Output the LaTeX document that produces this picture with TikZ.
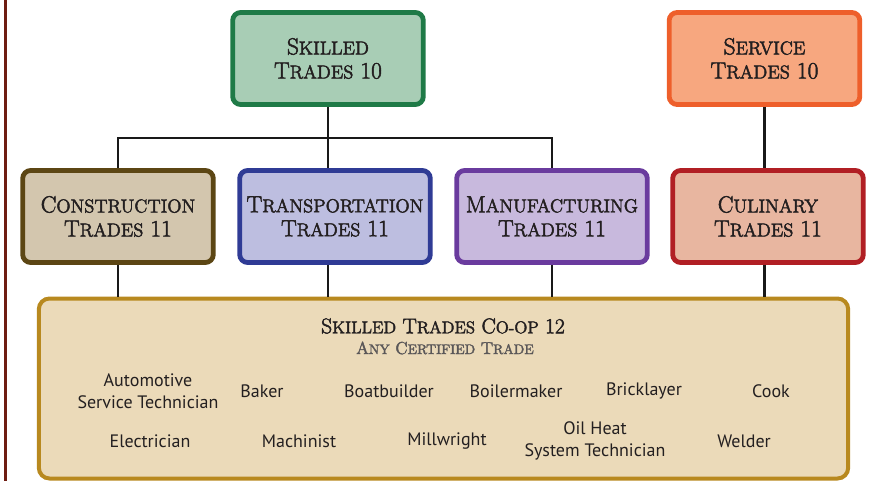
\documentclass[tikz,border=0pt]{standalone}
\usepackage{fontspec}
\newfontfamily\itemfont{PT Sans}
\newfontfamily\capsfont[FakeBold=2.4]{Latin Modern Roman}
\makeatletter
\newcommand\lowcaps[1]{{\fontsize{0.8\dimexpr\f@size pt\relax}{0pt}\selectfont\uppercase{#1}}}
\makeatother
\definecolor{txt}{HTML}{231F20}
\definecolor{skillfill}{HTML}{A8CDB5}
\definecolor{skillline}{HTML}{1F7A47}
\definecolor{servfill}{HTML}{F7A77F}
\definecolor{servline}{HTML}{EE5F2B}
\definecolor{constfill}{HTML}{D3C6AE}
\definecolor{constline}{HTML}{5C4614}
\definecolor{transfill}{HTML}{BDBEE0}
\definecolor{transline}{HTML}{2F3B95}
\definecolor{manufill}{HTML}{C8B9DD}
\definecolor{manuline}{HTML}{6A3B9E}
\definecolor{culifill}{HTML}{E8B6A0}
\definecolor{culiline}{HTML}{B11F24}
\definecolor{coopfill}{HTML}{EBDAB9}
\definecolor{coopline}{HTML}{B8891F}
\definecolor{edge}{HTML}{6E1C12}
\begin{document}
\begin{tikzpicture}[x=0.75pt,y=-0.75pt,
	box/.style={draw,line width=3.6pt,rounded corners=6pt,minimum width=143pt,minimum height=69pt,align=center,text=txt,inner sep=0pt,
		font=\capsfont\fontsize{17.5}{18}\selectfont},
	link/.style={line width=2.2pt,black!90},
	trade/.style={align=center,text=txt,inner sep=0pt,font=\itemfont\fontsize{13.5}{16.5}\selectfont}]
	\useasboundingbox (0,0) rectangle (871,481);
	\draw[edge,line width=2.2pt](5.5,0)--(5.5,481);
	% grade 10
	\node[box,fill=skillfill,draw=skillline] (skilled) at (328,58.5) {S\lowcaps{killed}\\T\lowcaps{rades} 10};
	\node[box,fill=servfill,draw=servline] (service) at (764.5,58.5) {S\lowcaps{ervice}\\T\lowcaps{rades} 10};
	% grade 11
	\node[box,fill=constfill,draw=constline] (constr) at (118,216.5) {C\lowcaps{onstruction}\\T\lowcaps{rades} 11};
	\node[box,fill=transfill,draw=transline] (trans) at (335,216.5) {T\lowcaps{ransportation}\\T\lowcaps{rades} 11};
	\node[box,fill=manufill,draw=manuline] (manuf) at (552,216.5) {M\lowcaps{anufacturing}\\T\lowcaps{rades} 11};
	\node[box,fill=culifill,draw=culiline] (culin) at (768,216.5) {C\lowcaps{ulinary}\\T\lowcaps{rades} 11};
	% grade 12
	\node[draw=coopline,fill=coopfill,line width=3pt,rounded corners=8pt,minimum width=607pt,minimum height=135pt] (coop) at (443.5,388.5) {};
	\coordinate (bar) at (328,138);
	\draw[link](skilled.south)--(skilled.south|-trans.north);
	\draw[link](constr.north)|-(bar)-|(manuf.north);
	\draw[link](service.south)--(service.south|-culin.north);
	\draw[link](constr.south)--(constr.south|-coop.north);
	\draw[link](trans.south-|skilled.south)--(skilled.south|-coop.north);
	\draw[link](manuf.south)--(manuf.south|-coop.north);
	\draw[link](culin.south-|service.south)--(service.south|-coop.north);
	\node[text=txt,font=\capsfont\fontsize{16}{16}\selectfont] (cooptitle) at (443,326) {S\lowcaps{killed} T\lowcaps{rades} C\lowcaps{o-op} 12};
	\node[text=txt!75,font=\capsfont\fontsize{13}{14}\selectfont] (anytrade) at (445,348) {A\lowcaps{ny} C\lowcaps{ertified} T\lowcaps{rade}};
	% trades
	\node[trade] (auto) at (148,391) {Automotive\\Service Technician};
	\node[trade] (baker) at (262,391) {Baker};
	\node[trade] (boat) at (389,391) {Boatbuilder};
	\node[trade] (boiler) at (516,391) {Boilermaker};
	\node[trade] (brick) at (644,391) {Bricklayer};
	\node[trade] (cook) at (771,391) {Cook};
	\node[trade] (elec) at (150,441) {Electrician};
	\node[trade] (machin) at (299,441) {Machinist};
	\node[trade] (millw) at (447,441) {Millwright};
	\node[trade] (oilheat) at (595,441) {Oil Heat\\System Technician};
	\node[trade] (welder) at (744,441) {Welder};
\end{tikzpicture}
\end{document}
